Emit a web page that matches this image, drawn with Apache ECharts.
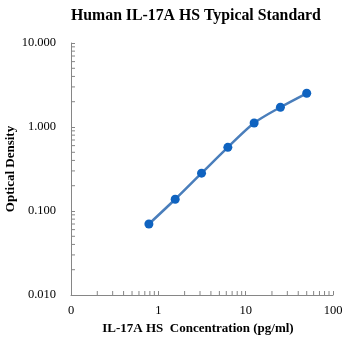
<!DOCTYPE html>
<html>
<head>
<meta charset="utf-8">
<script src="https://cdn.jsdelivr.net/npm/echarts@6/dist/echarts.min.js"></script>
<style>
  html, body { margin: 0; padding: 0; background: #fff; }
  #chart { width: 349px; height: 344px; }
</style>
</head>
<body>
<div id="chart"></div>
<script>
// Standard curve: concentration (pg/ml) vs optical density
var concentrations = [0.78, 1.56, 3.125, 6.25, 12.5, 25, 50];
var opticalDensity = [0.070, 0.138, 0.282, 0.573, 1.115, 1.72, 2.52];

// Axis ranges (log scale)
var xRange = [0.1, 100];
var yRange = [0.01, 10];

var FONT = '"Liberation Serif", "Times New Roman", serif';
var AXIS_COLOR = '#868686';

// Minor tick values at 2..9 within each decade
function minorValues(lo, hi) {
  var out = [];
  for (var d = lo; d < hi; d *= 10) {
    for (var k = 2; k <= 9; k++) out.push(+(d * k).toPrecision(6));
  }
  return out;
}
var xMinor = minorValues(xRange[0], xRange[1]);
var yMinor = minorValues(yRange[0], yRange[1]);

var chart = echarts.init(document.getElementById('chart'), null, { renderer: 'canvas' });

function tickRenderer(horizontal) {
  return function (params, api) {
    var p = api.coord([api.value(0), api.value(1)]);
    var len = 4;
    return {
      type: 'line',
      shape: horizontal
        ? { x1: p[0], y1: p[1], x2: p[0], y2: p[1] - len }
        : { x1: p[0], y1: p[1], x2: p[0] + len, y2: p[1] },
      style: { stroke: AXIS_COLOR, lineWidth: 1 },
      silent: true
    };
  };
}

chart.setOption({
  animation: false,
  backgroundColor: '#fff',
  title: {
    text: 'Human IL-17A HS Typical Standard',
    left: 71,
    top: 8,
    padding: 0,
    textStyle: { fontFamily: FONT, fontWeight: 'bold', fontSize: 15.8, color: '#000' }
  },
  grid: { left: 71, right: 16, top: 43, bottom: 49, containLabel: false, outerBoundsMode: 'none' },
  xAxis: {
    type: 'log',
    logBase: 10,
    min: xRange[0],
    max: xRange[1],
    name: 'IL-17A HS  Concentration (pg/ml)',
    nameLocation: 'middle',
    nameGap: 27,
    nameMoveOverlap: false,
    nameTextStyle: {
      fontFamily: FONT, fontWeight: 'bold', fontSize: 13, color: '#000',
      verticalAlign: 'top', padding: [0, 8, 0, 0]
    },
    axisLine: { show: true, lineStyle: { color: AXIS_COLOR, width: 1 } },
    axisTick: { show: true, inside: true, length: 4, lineStyle: { color: AXIS_COLOR } },
    splitLine: { show: false },
    axisLabel: {
      margin: 9,
      fontFamily: FONT, fontSize: 12.5, color: '#000',
      formatter: function (v) { return v < 1 ? '0' : String(Math.round(v)); }
    }
  },
  yAxis: {
    type: 'log',
    logBase: 10,
    min: yRange[0],
    max: yRange[1],
    name: 'Optical Density',
    nameLocation: 'middle',
    nameGap: 54,
    nameRotate: 90,
    nameMoveOverlap: false,
    nameTextStyle: { fontFamily: FONT, fontWeight: 'bold', fontSize: 13, color: '#000' },
    axisLine: { show: true, lineStyle: { color: AXIS_COLOR, width: 1 } },
    axisTick: { show: true, inside: true, length: 4, lineStyle: { color: AXIS_COLOR } },
    splitLine: { show: false },
    axisLabel: {
      margin: 15,
      fontFamily: FONT, fontSize: 12.5, color: '#000',
      formatter: function (v) { return v.toFixed(3); }
    }
  },
  series: [
    {
      type: 'custom',
      renderItem: tickRenderer(true),
      data: xMinor.map(function (v) { return [v, yRange[0]]; }),
      clip: false,
      silent: true,
      z: 1
    },
    {
      type: 'custom',
      renderItem: tickRenderer(false),
      data: yMinor.map(function (v) { return [xRange[0], v]; }),
      clip: false,
      silent: true,
      z: 1
    },
    {
      type: 'line',
      data: concentrations.map(function (c, i) { return [c, opticalDensity[i]]; }),
      smooth: 0.3,
      symbol: 'circle',
      symbolSize: 9,
      lineStyle: { color: '#4a7ebb', width: 2.5 },
      itemStyle: { color: '#0f63c0', borderWidth: 0 },
      z: 3
    }
  ]
});
</script>
</body>
</html>
